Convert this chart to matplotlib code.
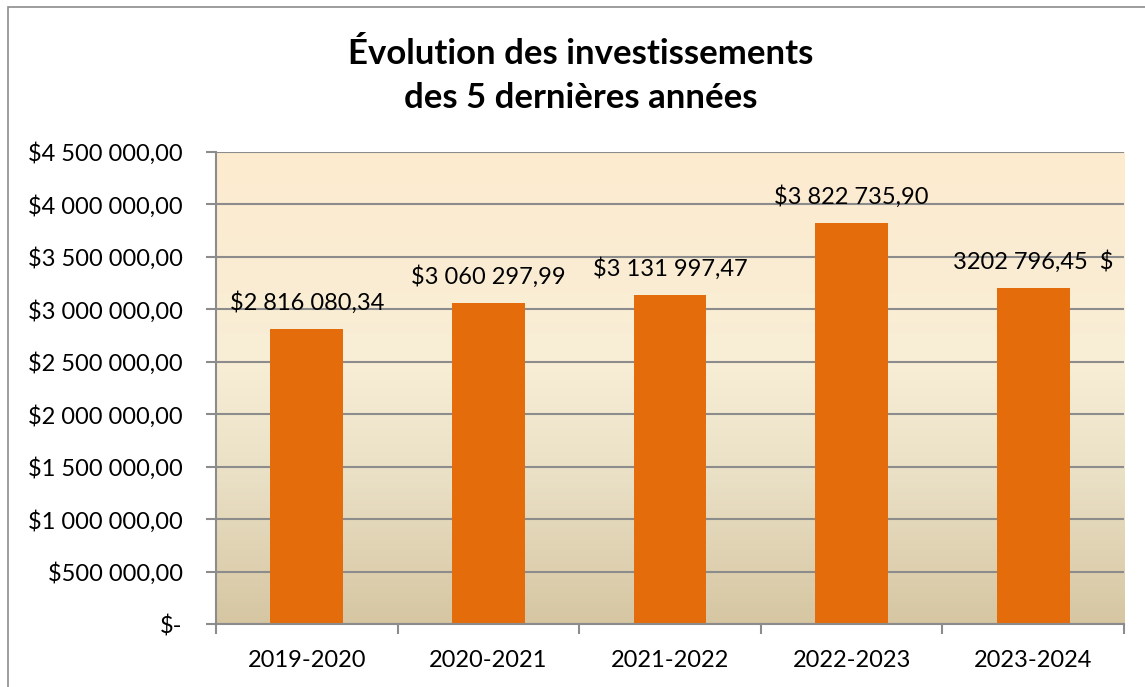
import matplotlib
matplotlib.use("Agg")
import matplotlib.pyplot as plt
import numpy as np
from matplotlib.colors import LinearSegmentedColormap
from matplotlib.patches import Rectangle

categories = ["2019-2020", "2020-2021", "2021-2022", "2022-2023", "2023-2024"]
values = [2816080.34, 3060297.99, 3131997.47, 3822735.90, 3202796.45]
labels = ["$2 816 080,34", "$3 060 297,99", "$3 131 997,47", "$3 822 735,90", "3202 796,45  $"]
yticks = [0, 500000, 1000000, 1500000, 2000000, 2500000, 3000000, 3500000, 4000000, 4500000]
yticklabels = ["$-", "$500 000,00", "$1 000 000,00", "$1 500 000,00", "$2 000 000,00",
               "$2 500 000,00", "$3 000 000,00", "$3 500 000,00", "$4 000 000,00", "$4 500 000,00"]
title = "Évolution des investissements\ndes 5 dernières années"

plt.rcParams['font.family'] = ['Lato', 'DejaVu Sans']

W, H = 1145, 687
fig = plt.figure(figsize=(W / 100, H / 100), dpi=100)
fig.patch.set_facecolor("white")

# outer frame
fig.patches.append(Rectangle((8 / W, -0.05), 1.2, 1 - 7 / H + 0.05, transform=fig.transFigure,
                             fill=False, edgecolor="#8c8c8c", linewidth=1.2))

ax = fig.add_axes([216 / W, (H - 624) / H, (1124 - 216) / W, (624 - 152) / H])

x = np.arange(len(categories))
ax.set_xlim(-0.5, len(categories) - 0.5)
ax.set_ylim(0, 4500000)

# gradient background
cmap = LinearSegmentedColormap.from_list("bg", [(0.0, "#d6c6a2"), (0.3, "#e9dfc4"),
                                                 (0.55, "#f8eed6"), (1.0, "#fdebcf")])
grad = np.linspace(0, 1, 256).reshape(-1, 1)
ax.imshow(grad, cmap=cmap, origin="lower", aspect="auto",
          extent=[-0.5, len(categories) - 0.5, 0, 4500000], zorder=0)

ax.set_axisbelow(True)
ax.yaxis.grid(True, color="#8c8c8c", linewidth=1.5, zorder=0.5)

ax.bar(x, values, width=0.40, color="#e46c0a", zorder=2)

for xi, v, lab in zip(x, values, labels):
    ax.annotate(lab, (xi, v), xytext=(0, 11), textcoords="offset points",
                ha="center", va="bottom", fontsize=17, color="black")

ax.set_yticks(yticks)
ax.set_yticklabels(yticklabels, fontsize=17)
ax.set_xticks(x)
ax.set_xticklabels(categories, fontsize=17)
ax.set_xticks(np.arange(-0.5, len(categories), 1.0), minor=True)
ax.tick_params(axis="x", which="major", length=0, pad=19)
ax.tick_params(axis="x", which="minor", length=7, color="#8c8c8c", width=1.5)
ax.tick_params(axis="y", length=7, color="#8c8c8c", width=1.5, pad=17)

for s in ["top", "right"]:
    ax.spines[s].set_visible(False)
for s in ["left", "bottom"]:
    ax.spines[s].set_color("#8c8c8c")
    ax.spines[s].set_linewidth(1.5)

fig.text(0.507, 1 - 76 / H, title, ha="center", va="center", fontsize=25,
         fontweight="bold", linespacing=1.5)

fig.savefig("out.png", dpi=100)
